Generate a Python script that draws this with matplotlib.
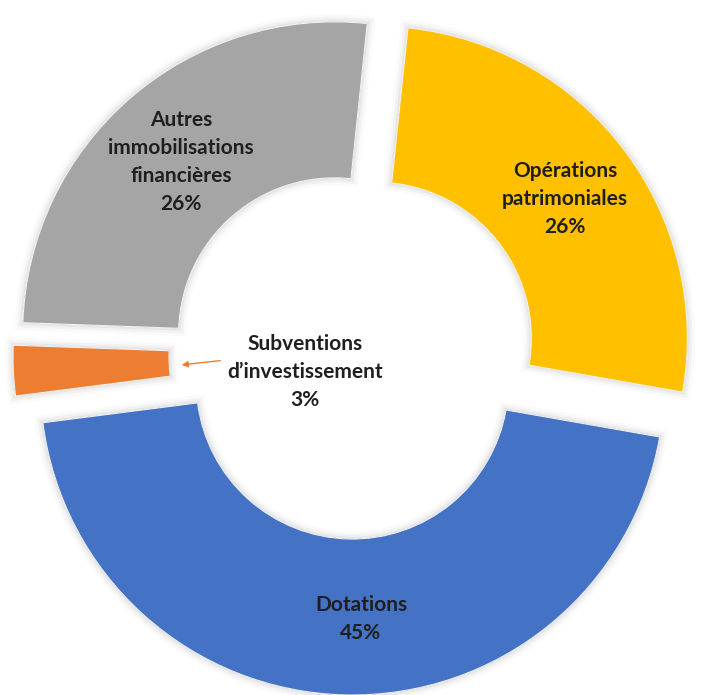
import matplotlib.pyplot as plt
import matplotlib.patheffects as pe
import numpy as np

plt.rcParams['font.family'] = ['Lato', 'DejaVu Sans']

# data (clockwise from top)
categories = ['Opérations\npatrimoniales', 'Dotations',
              'Subventions\nd\u2019investissement',
              'Autres\nimmobilisations\nfinancières']
values = [26.1, 45.2, 2.6, 26.1]
colors = ['#FFC000', '#4472C4', '#ED7D31', '#A5A5A5']

W, H = 703, 695
fig = plt.figure(figsize=(W / 100, H / 100), dpi=100)
ax = fig.add_axes([0, 0, 1, 1])

R = 312
ring = 156
cx, cy = 353, 340
expl = [28] * 4
# small label nudges (px) to follow the original placement
nudge = [(3, -2), (14, -2), (0, 0), (0, -5)]

glow = [pe.Stroke(linewidth=11, foreground=(0, 0, 0, 0.02)),
        pe.Stroke(linewidth=7, foreground=(0, 0, 0, 0.03)),
        pe.Stroke(linewidth=3.5, foreground=(0, 0, 0, 0.045)),
        pe.Normal()]

wedges, _ = ax.pie(values, colors=colors, startangle=84, counterclock=False,
                   radius=R, center=(cx, cy), explode=expl,
                   wedgeprops=dict(width=ring, linewidth=0.8,
                                   edgecolor='#f2f2f2'))
for w in wedges:
    w.set_path_effects(glow)

total = sum(values)
txt = '#1f1f1f'
fs = 15
for w, name, v, (dx, dy) in zip(wedges, categories, values, nudge):
    label = f'{name}\n{v / total * 100:.0f}%'
    mid = np.deg2rad((w.theta1 + w.theta2) / 2)
    wx, wy = w.center
    if v / total < 0.05:
        # small slice: label inside the hole with an arrow
        tip = (wx + 0.46 * R * np.cos(mid), wy + 0.46 * R * np.sin(mid) - 2)
        ax.annotate(label, xy=tip, xytext=(cx - 48, cy - 17),
                    ha='center', va='center', fontsize=fs, fontweight='bold',
                    color=txt, linespacing=1.5,
                    arrowprops=dict(arrowstyle='-|>', color='#ED7D31', lw=1,
                                    mutation_scale=9, shrinkA=3, shrinkB=0,
                                    relpos=(0, 0.66)))
    else:
        rr = R - ring / 2
        ax.text(wx + rr * np.cos(mid) + dx, wy + rr * np.sin(mid) + dy, label,
                ha='center', va='center', fontsize=fs, fontweight='bold',
                color=txt, linespacing=1.5)

ax.set_xlim(0, W)
ax.set_ylim(0, H)
ax.set_aspect('equal')
ax.axis('off')

fig.savefig('out.png', dpi=100, facecolor='white')
